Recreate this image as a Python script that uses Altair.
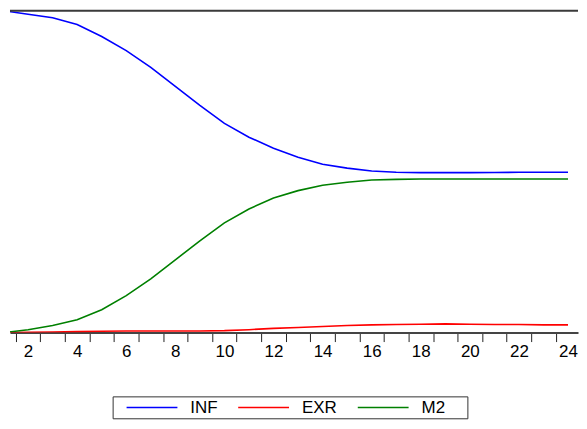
import altair as alt
import pandas as pd

periods = list(range(1, 25))
inf_vals = [100.0, 98.9, 97.8, 95.7, 92.0, 87.6, 82.4, 76.5, 70.6, 65.0, 60.7, 57.3,
            54.5, 52.3, 51.1, 50.2, 49.8, 49.7, 49.7, 49.7, 49.75, 49.8, 49.8, 49.8]
exr_vals = [0.0, 0.1, 0.2, 0.3, 0.4, 0.5, 0.5, 0.5, 0.5, 0.6, 0.9, 1.3,
            1.6, 1.9, 2.2, 2.4, 2.5, 2.6, 2.7, 2.6, 2.5, 2.5, 2.4, 2.4]
m2_vals = [0.0, 0.9, 2.2, 4.0, 7.1, 11.5, 16.7, 22.6, 28.5, 34.1, 38.4, 41.8,
           44.1, 45.8, 46.7, 47.4, 47.6, 47.7, 47.7, 47.7, 47.7, 47.7, 47.7, 47.7]
series_names = ["INF", "EXR", "M2"]
series_colors = ["#0000ff", "#ff0000", "#008000"]
tick_values = [p + 0.5 for p in periods[:-1]]

rows = []
for name, vals in zip(series_names, [inf_vals, exr_vals, m2_vals]):
    for p, v in zip(periods, vals):
        rows.append({"period": p, "value": v, "series": name})
df = pd.DataFrame(rows)

x_scale = alt.Scale(domain=[1.2639, 24.4064], nice=False, zero=False)
y_scale = alt.Scale(domain=[0, 100], nice=False, zero=True)

lines = alt.Chart(df).mark_line(strokeWidth=1.6, clip=True).encode(
    x=alt.X("period:Q", scale=x_scale,
            axis=alt.Axis(values=tick_values, title=None, grid=False,
                          labelExpr="(datum.value + 0.5) % 2 == 0 ? format(datum.value + 0.5, 'd') : ''",
                          labelOffset=12.3, labelFlush=False, labelOverlap=False,
                          tickSize=9, tickWidth=1, tickColor="#222222",
                          domainColor="#444444", domainWidth=2,
                          labelFont="Liberation Sans", labelFontSize=17,
                          labelColor="#000000", labelPadding=2)),
    y=alt.Y("value:Q", scale=y_scale, axis=None),
    color=alt.Color("series:N",
                    scale=alt.Scale(domain=series_names, range=series_colors),
                    sort=series_names,
                    legend=alt.Legend(title=" ", titleOrient="right", titleFontSize=1,
                                      titlePadding=20,
                                      orient="none", legendX=103, legendY=387,
                                      direction="horizontal",
                                      symbolType="M-5.1,0H5.1", symbolSize=100,
                                      symbolStrokeWidth=1.5, symbolOffset=28.5,
                                      labelOffset=30, columnPadding=9,
                                      labelFont="Liberation Sans", labelFontSize=17,
                                      labelColor="#000000",
                                      padding=2.5, strokeColor="#333333")),
)

top_rule = alt.Chart(pd.DataFrame({"top": [100]})).mark_rule(
    color="#3a3a3a", strokeWidth=2
).encode(y=alt.Y("top:Q", scale=y_scale, axis=None))

chart = alt.layer(lines, top_rule).properties(
    width=570, height=323,
    padding={"left": 1, "top": 1, "right": 0, "bottom": 0},
).configure_view(stroke=None)

chart.save("out.html", embed_options={"renderer": "svg", "actions": False})
